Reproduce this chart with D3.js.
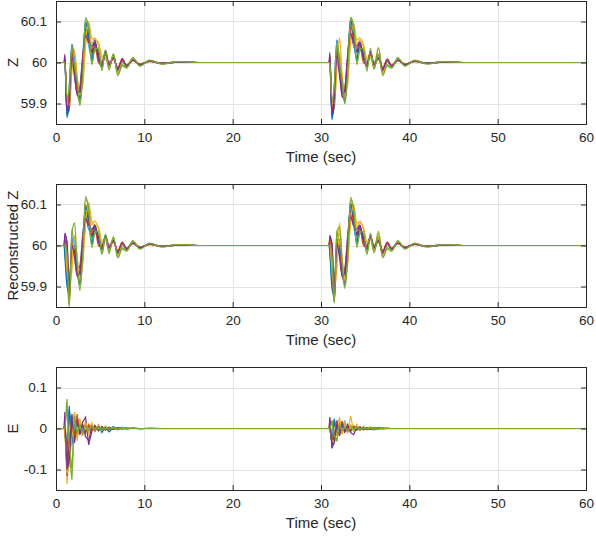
<!DOCTYPE html>
<html>
<head>
<meta charset="utf-8">
<script src="https://cdn.jsdelivr.net/npm/d3@7"></script>
<style>
  body { margin: 0; background: #fff; }
  text { font-family: "Liberation Sans", Arial, sans-serif; fill: #262626; }
</style>
</head>
<body>
<script>
// time offsets (sec) of the samples inside each disturbance, and disturbance start times
var evtOffsets = [0, 0.25, 0.5, 0.8, 1.1, 1.4, 1.7, 2.0, 2.35, 2.7, 3.05, 3.4, 3.8, 4.2, 4.6, 5.0, 5.5, 6.0, 6.5, 7.0, 7.7, 8.5, 9.6, 11, 12.8, 15.5];
var evtStarts = [1, 31];
var xTicks = [0, 10, 20, 30, 40, 50, 60];
var zTicks = [59.9, 60, 60.1];
var eTicks = [-0.1, 0, 0.1];
var colors = ['#0072BD', '#D95319', '#EDB120', '#7E2F8E', '#77AC30', '#4DBEEE', '#A2142F'];

// deviations from 60 Hz in mHz, one row per line
var zEvt1 = [
  [0,-135,-70,45,10,-60,-80,0,85,55,15,45,10,-5,25,-10,15,-20,5,-8,8,-5,4,-2,2,0],
  [0,-110,-90,20,-10,-75,-95,-20,95,70,20,40,25,0,20,-5,10,-15,8,-10,6,-6,3,-3,1,0],
  [0,-90,-120,-20,30,-40,-70,-60,40,100,60,55,50,15,10,-10,20,-25,0,-5,10,-4,5,-2,2,0],
  [15,-125,-110,0,-30,-80,-60,10,70,45,30,55,5,-10,30,0,10,-15,10,-10,5,-5,3,-2,1,0],
  [0,-100,-60,35,-15,-50,-100,-30,110,80,0,35,30,-15,25,-15,20,-30,-5,-12,10,-8,5,-4,2,0],
  [0,-120,-50,40,0,-45,-75,15,90,40,10,30,15,5,15,-5,12,-18,6,-6,6,-4,3,-2,1,0],
  [5,-115,-85,25,-25,-65,-85,-5,80,60,25,45,20,-5,20,-8,14,-20,4,-8,7,-5,3,-2,1,0],
  [0,-130,-100,10,-5,-55,-90,-15,100,65,5,50,15,-10,28,-12,18,-22,2,-9,8,-6,4,-3,1,0],
  [10,-105,-75,30,-20,-70,-65,5,75,50,35,40,0,-5,22,-6,8,-12,8,-7,5,-3,2,-2,1,0],
  [0,-95,-105,-10,20,-35,-80,-50,55,90,45,60,40,10,15,-12,16,-24,3,-9,9,-5,4,-3,2,0],
  [20,-120,-95,15,-35,-75,-70,0,65,50,40,50,10,-8,25,-5,12,-16,6,-8,6,-5,3,-2,1,0],
  [0,-85,-65,40,-10,-45,-105,-40,105,90,-5,30,35,-20,30,-18,22,-32,-8,-14,12,-9,6,-4,2,0]
];
var zEvt2 = [
  [0,-140,-60,55,5,-65,-85,5,90,50,10,40,15,-5,25,-10,15,-18,5,-8,7,-5,3,-2,1,0],
  [0,-115,-85,25,-15,-80,-90,-15,100,65,25,45,20,0,22,-8,12,-16,6,-9,6,-5,3,-2,1,0],
  [0,-95,-115,-10,60,-30,-75,-55,45,95,55,60,45,10,12,-8,37,-20,2,-5,9,-4,4,-2,2,0],
  [20,-130,-105,5,-25,-85,-65,15,75,40,30,50,10,-10,28,0,12,-14,8,-9,5,-5,3,-2,1,0],
  [0,-105,-65,40,-10,-55,-100,-25,111,85,5,35,30,-15,25,-15,35,-28,-5,-12,10,-8,5,-3,2,0],
  [0,-125,-55,50,-5,-50,-80,10,95,45,10,30,18,5,15,-5,12,-18,6,-6,6,-4,3,-2,1,0],
  [5,-120,-80,30,-20,-70,-80,0,85,55,25,45,20,-5,20,-8,14,-20,4,-8,7,-5,3,-2,1,0],
  [0,-135,-95,15,0,-60,-95,-10,105,60,5,50,15,-10,26,-12,18,-22,2,-9,8,-6,4,-2,1,0],
  [10,-110,-70,35,-15,-70,-60,10,80,50,35,40,0,-5,22,-6,8,-12,8,-7,5,-3,2,-2,1,0],
  [0,-100,-100,-5,25,-40,-85,-45,60,90,45,55,40,10,15,-12,16,-24,3,-9,9,-5,4,-3,2,0],
  [25,-125,-90,20,-30,-75,-70,5,70,50,40,50,10,-8,25,-5,12,-16,6,-8,6,-5,3,-2,1,0],
  [0,-90,-60,45,-5,-45,-100,-35,108,92,-5,30,35,-22,35,-17,22,-32,-8,-14,12,-9,6,-4,2,0]
];
var rEvt1 = [
  [0,-60,-120,10,20,-50,-70,10,90,60,20,40,15,-5,20,-10,15,-18,5,-8,7,-5,3,-2,1,0],
  [-20,-80,-130,-30,-10,-70,-90,-20,100,75,25,45,20,0,22,-5,10,-15,8,-8,6,-5,3,-2,1,0],
  [10,-40,-110,-60,20,-30,-80,-50,50,105,60,50,45,10,15,-10,18,-22,2,-6,9,-4,4,-2,2,0],
  [30,0,-90,-20,-20,-60,-50,20,70,40,35,50,10,-8,25,0,12,-15,6,-8,5,-4,3,-2,1,0],
  [0,-70,-150,40,-20,-50,-110,-30,120,85,0,30,30,-22,20,-15,18,-30,-5,-12,10,-7,5,-3,2,0],
  [-10,-90,-100,20,10,-40,-70,10,85,45,10,35,15,5,15,-5,12,-16,5,-6,6,-4,3,-2,1,0],
  [15,-50,-125,0,-15,-65,-85,0,80,60,25,45,20,-5,18,-8,14,-20,4,-8,7,-5,3,-2,1,0],
  [-25,-100,-115,-10,0,-55,-95,-15,95,65,5,45,15,-10,25,-12,16,-22,2,-8,8,-6,4,-2,1,0],
  [20,-30,-140,10,-25,-75,-60,5,75,55,35,40,0,-5,20,-6,8,-12,8,-7,5,-3,2,-2,1,0],
  [5,-60,-95,-40,25,-30,-85,-45,60,95,50,60,40,8,15,-12,16,-24,3,-8,9,-5,4,-2,2,0],
  [25,10,-100,0,-30,-75,-65,0,65,50,40,50,10,-8,22,-5,12,-16,6,-8,6,-5,3,-2,1,0],
  [0,-20,-145,30,55,-45,-100,-40,115,90,-5,30,35,-22,28,-20,22,-30,-8,-14,12,-9,6,-4,2,0]
];
var rEvt2 = [
  [0,-70,-125,15,15,-55,-75,5,95,55,15,40,15,-5,22,-10,15,-18,5,-8,7,-5,3,-2,1,0],
  [-15,-85,-135,-25,-5,-75,-90,-15,105,70,25,45,20,0,20,-6,10,-15,8,-8,6,-5,3,-2,1,0],
  [10,-45,-105,-55,55,-30,-80,-50,55,100,55,55,45,10,15,-10,35,-22,2,-6,9,-4,4,-2,2,0],
  [25,-5,-95,-15,-20,-65,-55,20,75,45,30,50,10,-8,25,0,12,-15,6,-8,5,-4,3,-2,1,0],
  [0,-75,-140,35,-15,-55,-105,-30,118,85,5,30,30,-20,22,-15,30,-28,-5,-12,10,-7,5,-3,2,0],
  [-10,-95,-105,25,5,-45,-75,10,90,45,10,35,15,5,15,-5,12,-16,5,-6,6,-4,3,-2,1,0],
  [15,-55,-130,5,-15,-65,-85,0,85,60,25,45,20,-5,18,-8,14,-20,4,-8,7,-5,3,-2,1,0],
  [-20,-105,-120,-5,0,-60,-95,-15,100,65,5,45,15,-10,25,-12,16,-22,2,-8,8,-6,4,-2,1,0],
  [15,-35,-135,15,-20,-75,-60,5,80,55,35,40,0,-5,20,-6,8,-12,8,-7,5,-3,2,-2,1,0],
  [5,-65,-100,-35,30,-35,-85,-45,65,95,45,60,40,8,15,-12,16,-24,3,-8,9,-5,4,-2,2,0],
  [20,5,-105,5,-30,-75,-65,0,70,50,40,50,10,-8,22,-5,12,-16,6,-8,6,-5,3,-2,1,0],
  [0,-25,-140,35,45,-45,-100,-40,112,92,-5,30,35,-22,30,-18,22,-30,-8,-14,12,-9,6,-4,2,0]
];
var eEvt1 = [
  [0,-50,45,-30,15,-15,20,-10,12,-8,10,-6,6,-10,4,-4,5,-3,3,-2,2,-1,1,0,0,0],
  [0,-70,20,30,-25,25,-12,10,-12,10,-6,6,-4,4,-3,3,-2,2,-1,1,0,0,0,0,0,0],
  [0,-135,-50,10,40,-25,22,-15,18,-10,14,-8,10,-5,6,-4,4,-2,2,-1,1,0,0,0,0,0],
  [40,-115,-70,35,-20,30,-12,15,28,-40,-8,8,-6,5,-4,3,-2,2,-1,1,0,0,0,0,0,0],
  [0,72,-60,-125,20,-15,12,-18,10,-8,6,-6,4,-3,3,-2,2,-1,1,0,0,0,0,0,0,0],
  [0,-30,30,-20,15,-10,18,-12,10,-6,8,-5,5,-4,3,-2,2,-1,1,0,0,0,0,0,0,0],
  [10,-90,-40,20,-15,12,-10,8,-8,6,-5,4,-3,2,-2,1,-1,1,0,0,0,0,0,0,0,0],
  [0,-95,55,-40,10,-20,15,-8,10,-6,8,-4,4,-3,2,-8,2,-1,1,0,0,0,0,0,0,0],
  [-10,-60,-20,25,-30,35,-15,10,-6,8,-5,4,-3,3,-2,2,-1,1,0,0,0,0,0,0,0,0],
  [0,-110,-90,-20,35,-30,25,-18,15,-12,10,-6,6,-4,4,-3,2,-2,1,0,0,0,0,0,0,0],
  [30,-100,-80,25,-35,20,-15,10,-20,-30,5,-5,4,-3,2,-2,1,-1,0,0,0,0,0,0,0,0],
  [0,50,-40,-100,30,-10,8,-12,6,-5,4,-3,2,-2,1,-1,1,0,0,0,0,0,0,0,0,0]
];
var eEvt2 = [
  [0,-35,20,-15,10,-8,12,-6,8,-5,6,-4,4,-3,3,-2,2,-1,1,0,0,0,0,0,0,0],
  [0,-25,15,10,-12,14,-8,6,-8,6,-4,4,-3,2,-2,1,-1,1,0,0,0,0,0,0,0,0],
  [0,-30,-20,12,25,-10,15,-8,30,-6,10,-5,6,-3,4,-2,2,-1,1,0,0,0,0,0,0,0],
  [28,-48,-30,20,-10,18,-8,10,-6,5,-4,4,-3,2,-2,1,-1,1,0,0,0,0,0,0,0,0],
  [0,20,-25,-30,12,-8,10,-10,8,-5,4,-3,3,-2,2,-1,1,0,0,0,0,0,0,0,0,0],
  [0,-20,25,-12,10,-6,20,-8,6,-4,5,-3,3,-2,2,-1,1,0,0,0,0,0,0,0,0,0],
  [5,-38,-15,12,-8,8,-6,5,-5,4,-3,2,-2,1,-1,1,0,0,0,0,0,0,0,0,0,0],
  [0,-40,22,-18,6,-10,8,-4,6,-4,5,-2,2,-2,1,-3,1,0,0,0,0,0,0,0,0,0],
  [-5,-25,-10,15,-14,18,-8,6,-4,5,-3,2,-2,2,-1,1,0,0,0,0,0,0,0,0,0,0],
  [0,-30,-35,-10,18,-15,12,-10,8,-6,6,-3,4,-2,2,-2,1,-1,0,0,0,0,0,0,0,0],
  [22,-45,-35,12,-18,10,-8,6,-10,-15,3,-3,2,-2,1,-1,1,0,0,0,0,0,0,0,0,0],
  [0,15,-18,-28,12,-5,4,-6,3,-3,2,-2,1,-1,1,0,0,0,0,0,0,0,0,0,0,0]
];

var svg = d3.select('body').append('svg')
  .attr('width', 596)
  .attr('height', 537);

var left = 56, right = 586, ph = 123;

var panels = [
  { top: 1,   label: 'Z',               evts: [zEvt1, zEvt2], base: 60, ticks: zTicks, dom: [59.85, 60.15], curve: d3.curveMonotoneX },
  { top: 184, label: 'Reconstructed Z', evts: [rEvt1, rEvt2], base: 60, ticks: zTicks, dom: [59.85, 60.15], curve: d3.curveMonotoneX },
  { top: 367, label: 'E',               evts: [eEvt1, eEvt2], base: 0,  ticks: eTicks, dom: [-0.15, 0.15],  curve: d3.curveLinear }
];

var x = d3.scaleLinear().domain([0, 60]).range([left, right]);

panels.forEach(function(p, pi) {
  var y = d3.scaleLinear().domain(p.dom).range([p.top + ph, p.top]);
  var g = svg.append('g');

  // grid
  g.append('g').selectAll('line').data(xTicks).enter().append('line')
    .attr('x1', function(d) { return Math.round(x(d)) + 0.5; })
    .attr('x2', function(d) { return Math.round(x(d)) + 0.5; })
    .attr('y1', p.top).attr('y2', p.top + ph)
    .style('stroke', '#e3e3e3');
  g.append('g').selectAll('line').data(p.ticks).enter().append('line')
    .attr('y1', function(d) { return Math.round(y(d)) + 0.5; })
    .attr('y2', function(d) { return Math.round(y(d)) + 0.5; })
    .attr('x1', left).attr('x2', right)
    .style('stroke', '#e3e3e3');

  // lines
  svg.append('clipPath').attr('id', 'clip' + pi)
    .append('rect').attr('x', left).attr('y', p.top).attr('width', right - left).attr('height', ph);

  var line = d3.line()
    .x(function(d) { return x(d[0]); })
    .y(function(d) { return y(d[1]); })
    .curve(p.curve);

  var series = p.evts[0].map(function(row, i) {
    var pts = [[0, p.base]];
    p.evts.forEach(function(ev, k) {
      pts.push([evtStarts[k] - 0.08, p.base]);
      ev[i].forEach(function(v, j) {
        pts.push([evtStarts[k] + evtOffsets[j], p.base + v / 1000]);
      });
    });
    pts.push([60, p.base]);
    return pts;
  });

  g.append('g').attr('clip-path', 'url(#clip' + pi + ')')
    .selectAll('path').data(series).enter().append('path')
    .attr('d', line)
    .style('fill', 'none')
    .style('stroke', function(d, i) { return colors[i % colors.length]; })
    .style('stroke-width', 1.2);

  // axes (ticks point inward, box on)
  var fmt = function(d) { return String(d); };
  g.append('g').attr('transform', 'translate(0,' + (p.top + ph) + ')')
    .call(d3.axisBottom(x).tickValues(xTicks).tickSize(-5).tickPadding(8).tickFormat(fmt))
    .call(style);
  g.append('g').attr('transform', 'translate(0,' + p.top + ')')
    .call(d3.axisTop(x).tickValues(xTicks).tickSize(-5).tickFormat(''))
    .call(style);
  g.append('g').attr('transform', 'translate(' + left + ',0)')
    .call(d3.axisLeft(y).tickValues(p.ticks).tickSize(-5).tickPadding(9).tickFormat(fmt))
    .call(style);
  g.append('g').attr('transform', 'translate(' + right + ',0)')
    .call(d3.axisRight(y).tickValues(p.ticks).tickSize(-5).tickFormat(''))
    .call(style);

  g.append('text')
    .attr('x', (left + right) / 2).attr('y', p.top + ph + 38)
    .attr('text-anchor', 'middle')
    .style('font-size', '15px')
    .text('Time (sec)');

  g.append('text')
    .attr('transform', 'translate(18,' + (p.top + ph / 2) + ') rotate(-90)')
    .attr('text-anchor', 'middle')
    .style('font-size', '15px')
    .text(p.label);
});

function style(sel) {
  sel.selectAll('.domain').style('stroke', '#262626');
  sel.selectAll('.tick line').style('stroke', '#262626');
  sel.selectAll('.tick text').style('font-size', '13.5px').style('fill', '#262626')
    .style('font-family', '"Liberation Sans", Arial, sans-serif');
}
</script>
</body>
</html>
